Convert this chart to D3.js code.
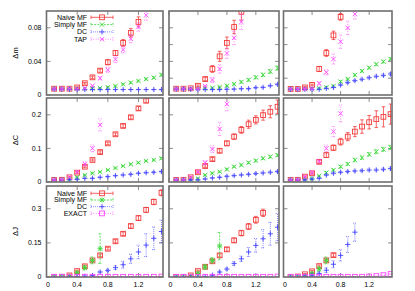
<!DOCTYPE html>
<html><head><meta charset="utf-8">
<script src="https://cdn.jsdelivr.net/npm/d3@7"></script>
<style>
body{margin:0;background:#fff}
svg{display:block}
text{font-family:"Liberation Sans",Arial,sans-serif;fill:#000}
</style>
</head><body>
<svg id="chart" width="415" height="291"></svg>
<script>
// x values shared by all panels
const xs = [0.1,0.2,0.3,0.4,0.5,0.6,0.7,0.8,0.9,1.0,1.1,1.2,1.3,1.4,1.5];
const xTicks = [0, 0.4, 0.8, 1.2];
const _ = null;

// row 1: delta m  (one inner array per column panel)
const dmNaive = [
  [0.0075,0.0075,0.0075,0.009,0.014,0.021,0.029,0.039,0.050,0.062,0.074,0.087,_,_,_],
  [0.0075,0.0075,0.008,0.011,0.019,0.031,0.046,0.062,0.081,0.099,_,_,_,_,_],
  [0.0072,0.0072,0.009,0.012,0.031,0.050,0.071,0.093,_,_,_,_,_,_,_]
];
const dmNaiveErr = [
  [0.0005,0.0005,0.0005,0.0008,0.001,0.0015,0.002,0.003,0.003,0.004,0.005,0.006,_,_,_],
  [0.0005,0.0005,0.0005,0.001,0.002,0.004,0.006,0.007,0.008,0.01,_,_,_,_,_],
  [0.0005,0.0005,0.001,0.001,0.003,0.004,0.005,0.004,_,_,_,_,_,_,_]
];
const dmSimply = [
  [0.0075,0.0075,0.0075,0.0075,0.0075,0.0078,0.0083,0.0092,0.0107,0.0127,0.0147,0.0167,0.019,0.0206,0.024],
  [0.0075,0.0075,0.0075,0.0075,0.008,0.0085,0.0095,0.011,0.013,0.0155,0.018,0.021,0.024,0.028,0.032],
  [0.0072,0.0072,0.0072,0.0072,0.0079,0.009,0.0107,0.0159,0.019,0.0238,0.0286,0.0325,0.0365,0.0397,0.0429]
];
const dmSimplyErr = [
  [0.0004,0.0004,0.0004,0.0004,0.0005,0.0005,0.0006,0.0007,0.0008,0.0009,0.001,0.001,0.0012,0.0012,0.0014],
  [0.0004,0.0004,0.0004,0.0004,0.0005,0.0006,0.0008,0.001,0.0012,0.0014,0.0016,0.0018,0.002,0.0022,0.0024],
  [0.0004,0.0004,0.0004,0.0005,0.0006,0.0008,0.001,0.0012,0.0012,0.0014,0.0014,0.0015,0.0015,0.0016,0.0016]
];
const dmDC = [
  [0.007,0.007,0.0068,0.0065,0.0065,0.0065,0.0065,0.0065,0.0065,0.0065,0.0065,0.0065,0.0065,0.0065,0.0065],
  [0.007,0.007,0.0068,0.0065,0.0065,0.0065,0.0065,0.0068,0.007,0.0075,0.0075,0.0087,0.0091,0.011,0.0127],
  [0.0068,0.0068,0.0068,0.0068,0.0068,0.0079,0.009,0.0119,0.0147,0.0171,0.0187,0.0206,0.0222,0.0234,0.025]
];
const dmDCErr = [
  [0.0003,0.0003,0.0003,0.0003,0.0003,0.0003,0.0003,0.0003,0.0003,0.0003,0.0003,0.0003,0.0003,0.0003,0.0003],
  [0.0003,0.0003,0.0003,0.0003,0.0003,0.0004,0.0004,0.0005,0.0005,0.0006,0.0006,0.0007,0.0008,0.0009,0.001],
  [0.0003,0.0003,0.0003,0.0003,0.0004,0.0005,0.0006,0.0008,0.001,0.0011,0.0012,0.0013,0.0014,0.0015,0.0016]
];
const dmTAP = [
  [0.0075,0.0075,0.0075,0.0075,0.008,0.011,0.020,0.030,0.0425,0.054,0.067,0.081,0.095,_,_],
  [0.0075,0.0075,0.0075,0.0075,0.0107,0.0179,0.031,0.0496,0.068,0.087,_,_,_,_,_],
  [0.0072,0.0072,0.0072,0.0075,0.0138,0.027,0.0428,0.0635,0.080,0.0964,_,_,_,_,_]
];
const dmTAPErr = [
  [0.0005,0.0005,0.0005,0.0005,0.0008,0.001,0.002,0.003,0.004,0.004,0.005,0.005,0.006,_,_],
  [0.0005,0.0005,0.0005,0.0005,0.001,0.003,0.005,0.006,0.008,0.009,_,_,_,_,_],
  [0.0005,0.0005,0.0005,0.0008,0.002,0.003,0.006,0.008,0.008,0.006,_,_,_,_,_]
];

// row 2: delta C
const dcNaive = [
  [0.006,0.0066,0.014,0.0277,0.0455,0.0655,0.089,0.115,0.142,0.167,0.1925,0.219,0.242,_,_],
  [0.006,0.0066,0.014,0.029,0.0476,0.068,0.093,0.115,0.135,0.155,0.172,0.185,0.199,0.209,0.224],
  [0.006,0.0066,0.016,0.026,0.060,0.080,0.102,0.120,0.135,0.150,0.165,0.178,0.187,0.194,0.202]
];
const dcNaiveErr = [
  [0.001,0.001,0.002,0.003,0.003,0.003,0.004,0.004,0.004,0.005,0.005,0.006,0.006,_,_],
  [0.001,0.001,0.002,0.003,0.004,0.005,0.006,0.007,0.008,0.01,0.012,0.012,0.015,0.018,0.02],
  [0.001,0.001,0.002,0.003,0.005,0.007,0.008,0.01,0.012,0.015,0.02,0.02,0.025,0.03,0.03]
];
const dcSimply = [
  [0.006,0.006,0.008,0.014,0.0208,0.026,0.030,0.0357,0.0417,0.0476,0.0526,0.0575,0.0625,0.0655,0.0705],
  [0.006,0.006,0.007,0.010,0.0208,0.026,0.0307,0.0377,0.0456,0.0506,0.0575,0.0635,0.0705,0.0754,0.080],
  [0.006,0.006,0.007,0.010,0.018,0.0277,0.0357,0.0456,0.0536,0.0655,0.0724,0.0823,0.090,0.0972,0.103]
];
const dcSimplyErr = [
  [0.001,0.001,0.001,0.0015,0.002,0.002,0.002,0.002,0.002,0.002,0.002,0.002,0.002,0.0025,0.0025],
  [0.001,0.001,0.001,0.0015,0.002,0.002,0.002,0.0025,0.0025,0.003,0.003,0.003,0.0035,0.004,0.004],
  [0.001,0.001,0.001,0.0015,0.002,0.003,0.003,0.004,0.004,0.005,0.005,0.005,0.006,0.006,0.006]
];
const dcDC = [
  [0.006,0.006,0.007,0.008,0.011,0.011,0.014,0.016,0.0188,0.021,0.023,0.026,0.0277,0.029,0.031],
  [0.006,0.006,0.006,0.0066,0.009,0.012,0.014,0.017,0.019,0.021,0.023,0.025,0.027,0.029,0.031],
  [0.006,0.006,0.006,0.009,0.011,0.0208,0.026,0.029,0.031,0.0327,0.0337,0.0357,0.0357,0.0377,0.040]
];
const dcDCErr = [
  [0.001,0.001,0.001,0.001,0.001,0.0015,0.0015,0.0015,0.0015,0.002,0.002,0.002,0.002,0.002,0.002],
  [0.001,0.001,0.001,0.001,0.0015,0.0015,0.0015,0.002,0.002,0.002,0.002,0.0025,0.0025,0.003,0.003],
  [0.001,0.001,0.001,0.0015,0.002,0.002,0.002,0.002,0.0025,0.0025,0.003,0.003,0.003,0.0035,0.004]
];
const dcTAP = [
  [0.006,0.0066,0.014,0.030,0.0536,0.100,0.170,_,_,_,_,_,_,_,_],
  [0.006,0.0066,0.014,0.031,0.0575,0.098,0.158,0.232,_,_,_,_,_,_,_],
  [0.006,0.0066,0.016,0.028,0.062,0.100,0.150,0.204,_,_,_,_,_,_,_]
];
const dcTAPErr = [
  [0.001,0.001,0.002,0.004,0.006,0.01,0.018,_,_,_,_,_,_,_,_],
  [0.001,0.001,0.002,0.004,0.006,0.01,0.02,0.02,_,_,_,_,_,_,_],
  [0.001,0.001,0.002,0.004,0.006,0.01,0.015,0.025,_,_,_,_,_,_,_]
];

// row 3: delta J
const djNaive = [
  [0.000,0.001,0.007,0.026,0.047,0.073,0.095,0.1245,0.157,0.190,0.224,0.259,0.295,0.33,0.37],
  [0.000,0.000,0.007,0.026,0.045,0.069,0.095,0.1215,0.161,0.193,0.222,0.2515,0.282,_,_],
  [0.000,0.002,0.012,0.025,0.048,0.073,0.096,_,_,_,_,_,_,_,_]
];
const djNaiveErr = [
  [0.001,0.001,0.002,0.004,0.005,0.005,0.006,0.006,0.007,0.008,0.009,0.01,0.011,0.012,0.013],
  [0.001,0.001,0.002,0.004,0.005,0.006,0.007,0.008,0.01,0.012,0.013,0.015,0.016,_,_],
  [0.001,0.001,0.003,0.004,0.005,0.006,0.007,_,_,_,_,_,_,_,_]
];
const djSimply = [
  [0,0,0.003,0.019,0.041,0.073,0.1245,_,_,_,_,_,_,_,_],
  [0,0,0.003,0.016,0.044,0.073,0.136,_,_,_,_,_,_,_,_],
  [0,0,0.003,0.015,0.035,0.073,_,_,_,_,_,_,_,_,_]
];
const djSimplyErr = [
  [0.001,0.001,0.002,0.006,0.01,0.015,0.065,_,_,_,_,_,_,_,_],
  [0.001,0.001,0.002,0.006,0.01,0.012,0.06,_,_,_,_,_,_,_,_],
  [0.001,0.001,0.002,0.006,0.01,0.015,_,_,_,_,_,_,_,_,_]
];
const djDC = [
  [0,0,0.001,0.002,0.003,0.006,0.022,0.029,0.041,0.054,0.080,0.110,0.14,0.17,0.20],
  [0,0,0,0.001,0.002,0.008,0.022,0.035,0.059,0.080,0.110,0.139,0.168,0.19,0.219],
  [0,0,0.003,0.008,0.015,0.030,0.056,0.095,0.143,0.197,_,_,_,_,_]
];
const djDCErr = [
  [0.001,0.001,0.001,0.001,0.002,0.003,0.004,0.005,0.008,0.015,0.02,0.03,0.05,0.05,0.05],
  [0.001,0.001,0.001,0.001,0.002,0.003,0.004,0.005,0.008,0.012,0.02,0.03,0.04,0.05,0.06],
  [0.001,0.001,0.002,0.004,0.006,0.01,0.015,0.025,0.035,0.04,_,_,_,_,_]
];
const djExact = [
  [0.001,0.001,0.001,0.001,0.001,0.001,0.001,0.001,0.001,0.001,0.001,0.001,0.001,0.001,0.002],
  [0.001,0.001,0.001,0.001,0.001,0.001,0.001,0.001,0.001,0.001,0.001,0.001,0.001,0.001,0.002],
  [0.001,0.001,0.001,0.001,0.001,0.001,0.001,0.001,0.001,0.001,0.001,0.002,0.004,0.008,0.013]
];
const djExactErr = [
  [0.0005,0.0005,0.0005,0.0005,0.0005,0.0005,0.0005,0.0005,0.0005,0.0005,0.0005,0.0005,0.0005,0.0005,0.0005],
  [0.0005,0.0005,0.0005,0.0005,0.0005,0.0005,0.0005,0.0005,0.0005,0.0005,0.0005,0.0005,0.0005,0.0005,0.0005],
  [0.0005,0.0005,0.0005,0.0005,0.0005,0.0005,0.0005,0.0005,0.0005,0.0005,0.0005,0.001,0.001,0.001,0.002]
];

// gnuplot-ish colours, a bit softened like the antialiased original
const colors = { naive: "#f23c3c", simply: "#3cd83c", dc: "#4444ff", mag: "#ff44ff" };
const dashes = { naive: null, simply: "2,1.2", dc: "0.8,1.2", mag: "0.8,1.6" };

const rows = [
  { label: "\u0394m", domain: [0, 0.1], ticks1: [0, 0.04, 0.08], ticks: [0.02, 0.04, 0.06, 0.08],
    fmt: d3.format(".2f"),
    series: [
      { name: "Naive MF", v: dmNaive, e: dmNaiveErr, c: "naive", m: "square" },
      { name: "Simply MF", v: dmSimply, e: dmSimplyErr, c: "simply", m: "cross" },
      { name: "DC", v: dmDC, e: dmDCErr, c: "dc", m: "plus" },
      { name: "TAP", v: dmTAP, e: dmTAPErr, c: "mag", m: "cross" }
    ], legend: true },
  { label: "\u0394C", domain: [0, 0.25], ticks1: [0, 0.1, 0.2], ticks: [0.1, 0.2],
    fmt: d3.format(".1f"),
    series: [
      { name: "Naive MF", v: dcNaive, e: dcNaiveErr, c: "naive", m: "square" },
      { name: "Simply MF", v: dcSimply, e: dcSimplyErr, c: "simply", m: "cross" },
      { name: "DC", v: dcDC, e: dcDCErr, c: "dc", m: "plus" },
      { name: "TAP", v: dcTAP, e: dcTAPErr, c: "mag", m: "cross" }
    ], legend: false },
  { label: "\u0394J", domain: [0, 0.4], ticks1: [0, 0.15, 0.3], ticks: [0.15, 0.3],
    fmt: d3.format(".2~f"),
    series: [
      { name: "Naive MF", v: djNaive, e: djNaiveErr, c: "naive", m: "square" },
      { name: "Simply MF", v: djSimply, e: djSimplyErr, c: "simply", m: "star" },
      { name: "DC", v: djDC, e: djDCErr, c: "dc", m: "plus" },
      { name: "EXACT", v: djExact, e: djExactErr, c: "mag", m: "square" }
    ], legend: true }
];

// panel boxes in pixels
const colBox = [[46.5, 163], [169, 279], [283.5, 392]];
const rowBox = [[11, 95], [98, 182], [186, 277]];
const axisColor = "#6e6e6e";

const svg = d3.select("#chart");

function drawMarker(g, kind, x, y, color) {
  const s = kind === "square" ? 2.4 : 2.2;
  if (kind === "square") {
    g.append("rect").attr("x", x - s).attr("y", y - s).attr("width", 2 * s).attr("height", 2 * s)
      .attr("fill", "none").attr("stroke", color).attr("stroke-width", 0.9);
    return;
  }
  let p = "";
  if (kind === "cross" || kind === "star") p += `M${x-s},${y-s}L${x+s},${y+s}M${x-s},${y+s}L${x+s},${y-s}`;
  if (kind === "plus" || kind === "star") p += `M${x-s-0.4},${y}L${x+s+0.4},${y}M${x},${y-s-0.4}L${x},${y+s+0.4}`;
  g.append("path").attr("d", p).attr("stroke", color).attr("stroke-width", 0.9).attr("fill", "none");
}

function errBar(g, x, y0, y1, color, dash) {
  const cap = 1.8;
  const p = `M${x},${y0}L${x},${y1}M${x-cap},${y0}L${x+cap},${y0}M${x-cap},${y1}L${x+cap},${y1}`;
  g.append("path").attr("d", p).attr("stroke", color).attr("stroke-width", 0.8)
    .attr("fill", "none").attr("stroke-dasharray", dash);
}

rows.forEach((row, ri) => {
  const [top, bot] = rowBox[ri];
  const y = d3.scaleLinear().domain(row.domain).range([bot, top]);

  colBox.forEach((cb, ci) => {
    const [left, right] = cb;
    const x = d3.scaleLinear().domain([0, 1.52]).range([left, right]);
    const id = `clip-${ri}-${ci}`;
    svg.append("clipPath").attr("id", id).append("rect")
      .attr("x", left).attr("y", top).attr("width", right - left).attr("height", bot - top);

    const panel = svg.append("g");

    // ticks (inward, mirrored)
    const yt = ci === 0 ? row.ticks1 : row.ticks;
    const tk = panel.append("g").attr("stroke", axisColor).attr("stroke-width", 0.8);
    yt.forEach(t => {
      tk.append("line").attr("x1", left).attr("x2", left + 4).attr("y1", y(t)).attr("y2", y(t));
      tk.append("line").attr("x1", right).attr("x2", right - 4).attr("y1", y(t)).attr("y2", y(t));
    });
    xTicks.forEach(t => {
      tk.append("line").attr("x1", x(t)).attr("x2", x(t)).attr("y1", bot).attr("y2", bot - 4);
      tk.append("line").attr("x1", x(t)).attr("x2", x(t)).attr("y1", top).attr("y2", top + 4);
    });

    // y tick labels on first column only
    if (ci === 0) {
      row.ticks1.forEach(t => {
        panel.append("text").attr("x", left - 5).attr("y", y(t)).attr("dy", "0.35em")
          .attr("text-anchor", "end").attr("font-size", 7).text(t === 0 ? "0" : row.fmt(t));
      });
      panel.append("text").attr("transform", `translate(15,${(top + bot) / 2}) rotate(-90)`)
        .attr("text-anchor", "middle").attr("dy", "0.35em").attr("font-size", 7.5).text(row.label);
    }
    // x tick labels on bottom row only
    if (ri === rows.length - 1) {
      xTicks.forEach(t => {
        panel.append("text").attr("x", x(t) + (t === 0 ? 1.5 : 0)).attr("y", bot + 10)
          .attr("text-anchor", "middle").attr("font-size", 7).text(t === 0 ? "0" : d3.format(".1f")(t));
      });
    }

    // data
    const data = panel.append("g").attr("clip-path", `url(#${id})`);
    row.series.forEach(s => {
      const vals = s.v[ci], errs = s.e[ci];
      const col = colors[s.c];
      xs.forEach((xv, i) => {
        if (vals[i] == null) return;
        const px = x(xv);
        errBar(data, px, y(vals[i] - errs[i]), y(vals[i] + errs[i]), col, dashes[s.c]);
        drawMarker(data, s.m, px, y(vals[i]), col);
      });
    });

    // border
    panel.append("rect").attr("x", left).attr("y", top).attr("width", right - left).attr("height", bot - top)
      .attr("fill", "none").attr("stroke", axisColor).attr("stroke-width", 1.6);

    // legend in the first panel of rows with legend
    if (ci === 0 && row.legend) {
      const ly0 = ri === 0 ? 17.3 : 193.3;
      const step = ri === 0 ? 7.3 : 6.7;
      row.series.forEach((s, k) => {
        const ly = ly0 + k * step;
        const col = colors[s.c];
        panel.append("text").attr("x", 87).attr("y", ly).attr("dy", "0.35em")
          .attr("text-anchor", "end").attr("font-size", 7).text(s.name);
        const lg = panel.append("g");
        lg.append("path").attr("d", `M91,${ly}L113,${ly}M91,${ly-1.8}L91,${ly+1.8}M113,${ly-1.8}L113,${ly+1.8}`)
          .attr("stroke", col).attr("stroke-width", 0.8).attr("fill", "none")
          .attr("stroke-dasharray", dashes[s.c]);
        drawMarker(lg, s.m, 102, ly, col);
      });
    }
  });
});
</script>
</body></html>
